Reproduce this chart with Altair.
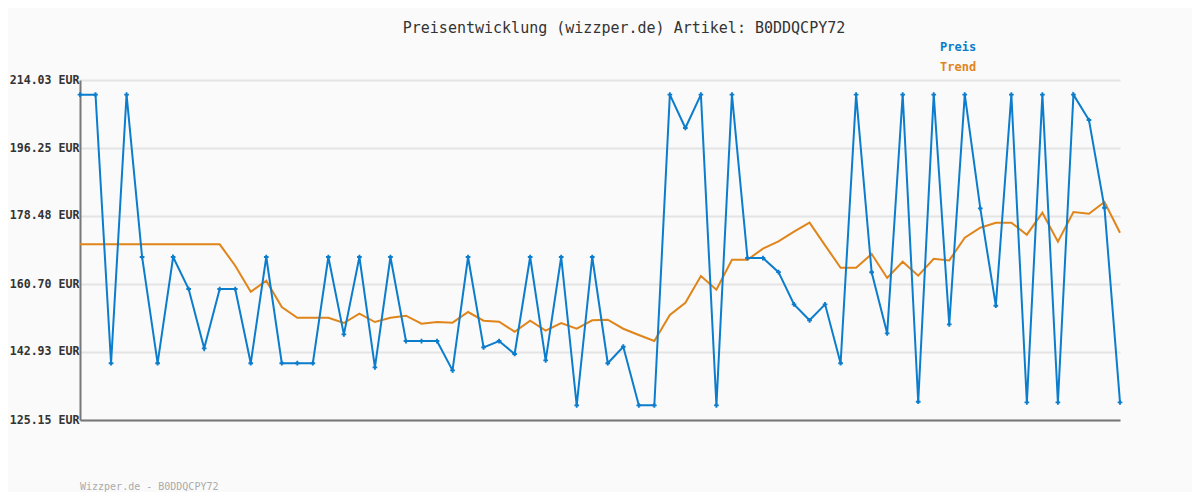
import altair as alt
import pandas as pd

preis = [210.2, 210.2, 140.0, 210.2, 167.76, 140.0, 167.76, 159.39, 143.88, 159.39,
         159.39, 140.0, 167.76, 140.0, 140.0, 140.0, 167.76, 147.54, 167.76, 138.91,
         167.76, 145.79, 145.79, 145.79, 138.13, 167.76, 144.13, 145.79, 142.40, 167.76,
         140.74, 167.76, 128.98, 167.76, 140.0, 144.31, 128.98, 128.98, 210.2, 201.48,
         210.2, 128.98, 210.2, 167.49, 167.49, 163.8, 155.38, 151.21, 155.38, 140.0,
         210.2, 163.76, 147.8, 210.2, 129.93, 210.2, 150.16, 210.2, 180.48, 155.03,
         210.2, 129.76, 210.2, 129.76, 210.2, 203.57, 180.65, 129.76]

trend = [171.08, 171.08, 171.08, 171.08, 171.08, 171.08, 171.08, 171.08, 171.08, 171.08,
         165.48, 158.68, 161.56, 154.68, 151.89, 151.89, 151.89, 150.5, 152.93, 150.76,
         151.89, 152.41, 150.32, 150.76, 150.6, 153.38, 151.1, 150.85, 148.23, 151.1,
         148.5, 150.5, 149.01, 151.2, 151.37, 149.01, 147.36, 145.79, 152.59, 155.81,
         162.79, 159.21, 167.05, 167.05, 169.93, 171.85, 174.37, 176.73, 170.81, 164.96,
         164.96, 168.54, 162.27, 166.53, 162.87, 167.31, 166.87, 172.8, 175.42, 176.73,
         176.73, 173.59, 179.34, 171.76, 179.52, 179.08, 182.13, 174.11]

y_ticks = [125.15, 142.93, 160.70, 178.48, 196.25, 214.03]

title_text = "Preisentwicklung (wizzper.de) Artikel: B0DDQCPY72"
footer_text = "Wizzper.de - B0DDQCPY72"
legend_labels = ["Preis", "Trend"]

BLUE = "#0b7dcc"
ORANGE = "#e0851a"
FONT = "DejaVu Sans Mono"

df = pd.DataFrame({"i": list(range(len(preis))), "preis": preis, "trend": trend})

x = alt.X("i:Q", scale=alt.Scale(domain=[0, len(preis) - 1], nice=False, zero=False),
          axis=alt.Axis(labels=False, ticks=False, grid=False, title=None,
                        domainColor="#777777", domainWidth=2))
yscale = alt.Scale(domain=[125.15, 214.03], nice=False, zero=False)
yaxis = alt.Axis(values=y_ticks, title=None, ticks=False, grid=True,
                 gridColor="#e4e4e4", gridWidth=2, domainColor="#777777", domainWidth=2,
                 labelExpr="format(datum.value, '.2f') + ' EUR'",
                 labelFont=FONT, labelFontSize=11.6, labelFontWeight="bold",
                 labelColor="#333333", labelPadding=1)

base = alt.Chart(df)

trend_line = base.mark_line(color=ORANGE, strokeWidth=2).encode(
    x=x, y=alt.Y("trend:Q", scale=yscale, axis=yaxis))
preis_line = base.mark_line(color=BLUE, strokeWidth=2).encode(
    x=x, y=alt.Y("preis:Q", scale=yscale))
preis_pts = base.mark_point(shape="cross", filled=True, color=BLUE, size=22, opacity=1).encode(
    x=x, y=alt.Y("preis:Q", scale=yscale))

title = alt.Chart(pd.DataFrame({"t": [title_text]})).mark_text(
    font=FONT, fontSize=15, color="#333333", align="center", baseline="middle"
).encode(text="t:N", x=alt.value(544), y=alt.value(-52))

legend_df = pd.DataFrame({"t": legend_labels, "c": [BLUE, ORANGE], "yy": [-33, -13]})
legend = alt.Chart(legend_df).mark_text(
    font=FONT, fontSize=12, fontWeight="bold", align="left", baseline="middle"
).encode(text="t:N", x=alt.value(860), y=alt.Y("yy:Q", scale=None),
         color=alt.Color("c:N", scale=None))

footer = alt.Chart(pd.DataFrame({"t": [footer_text]})).mark_text(
    font=FONT, fontSize=10, color="#aaaaaa", align="left", baseline="middle"
).encode(text="t:N", x=alt.value(0), y=alt.value(407))

chart = alt.layer(trend_line, preis_line, preis_pts, title, legend, footer).properties(
    width=1040, height=340,
    autosize=alt.AutoSizeParams(type="none"),
    padding={"left": 72, "top": 72, "right": 72, "bottom": 72},
    background="#fafafa",
).configure_view(stroke=None)

chart.save("out.html", embed_options={"renderer": "svg", "actions": False})
